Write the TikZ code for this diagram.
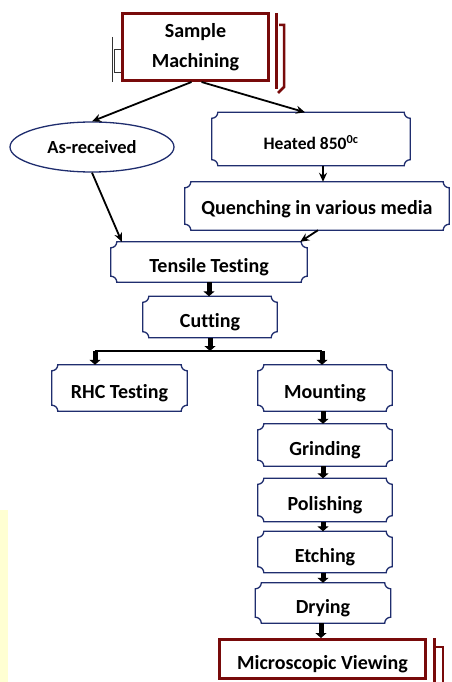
\documentclass[tikz,border=0pt]{standalone}
\usepackage{fontspec}
\setmainfont{Carlito}[Ligatures=NoCommon]
\usepackage{tikz}
\usetikzlibrary{arrows,arrows.meta,shapes,positioning,calc}
\definecolor{dfnavy}{RGB}{31,45,110}
\definecolor{dfred}{RGB}{120,10,10}
\definecolor{dfpale}{RGB}{255,255,210}
\tikzstyle{arrow} = [line width=1.8pt,-{Stealth[length=9pt,width=8pt]},color=black]
\tikzstyle{blockarrow} = [line width=5pt,-{Triangle[length=5pt,width=11pt]},color=black]
\tikzstyle{stepbox} = [rectangle, inner sep=0pt, text height=21pt, text depth=0pt, font=\bfseries\fontsize{20}{24}\selectfont]
\tikzstyle{redbox} = [rectangle, draw=dfred, line width=3pt, inner sep=0pt, font=\bfseries\fontsize{20}{24}\selectfont]
\tikzstyle{plaqueline} = [draw=dfnavy, line width=1.3pt]

\begin{document}
\begin{tikzpicture}[x=1pt,y=-1pt]
    \useasboundingbox (0,0) rectangle (451,682);
    \fill[dfpale] (0,510) rectangle (8,682);

    % Start and end boxes
    \node[redbox, minimum width=146pt, minimum height=67pt, align=center, font=\bfseries\fontsize{20}{30}\selectfont] (smp) at (195.5,47) {Sample\\Machining};
    \node[redbox, minimum width=206pt, minimum height=39pt, text height=21pt, text depth=0pt] (micro) at (322.5,659) {Microscopic Viewing};

    % Branches
    \node[ellipse, draw=dfnavy, line width=1.3pt, minimum width=164pt, minimum height=50pt, inner sep=0pt, font=\bfseries\fontsize{18.5}{22}\selectfont] (asr) at (92,147) {As-received};
    \node[stepbox, minimum width=198pt, minimum height=53pt, font=\bfseries\fontsize{17.5}{22}\selectfont] (heat) at (311,139) {Heated 850\textsuperscript{0c}};
    \node[stepbox, minimum width=264pt, minimum height=48pt, text height=17pt] (quench) at (317,206) {Quenching in various media};

    % Testing
    \node[stepbox, minimum width=196pt, minimum height=40pt] (tens) at (209,262) {Tensile Testing};
    \node[stepbox, minimum width=134pt, minimum height=41pt] (cut) at (210,317) {Cutting};
    \node[stepbox, minimum width=135pt, minimum height=46pt] (rhc) at (119.5,388) {RHC Testing};

    % Sample preparation
    \node[stepbox, minimum width=134pt, minimum height=46pt] (mount) at (325,388) {Mounting};
    \node[stepbox, minimum width=134pt, minimum height=42pt] (grind) at (325,445) {Grinding};
    \node[stepbox, minimum width=134pt, minimum height=43pt] (pol) at (325,500) {Polishing};
    \node[stepbox, minimum width=134pt, minimum height=41pt] (etch) at (325,552) {Etching};
    \node[stepbox, minimum width=135pt, minimum height=40pt] (dry) at (323,603) {Drying};

    % Plaque outlines
    \foreach \n in {heat,quench,tens,cut,rhc,mount,grind,pol,etch,dry}
        \draw[plaqueline] ($(\n.north west)+(6,0)$) -- ($(\n.north east)+(-6,0)$) arc[start angle=180, end angle=270, radius=6pt]
            -- ($(\n.south east)+(0,-6)$) arc[start angle=90, end angle=180, radius=6pt]
            -- ($(\n.south west)+(6,0)$) arc[start angle=0, end angle=90, radius=6pt]
            -- ($(\n.north west)+(0,6)$) arc[start angle=270, end angle=360, radius=6pt] -- cycle;

    % Decorations of the red boxes
    \draw[dfred, line width=3pt] ($(smp.north east)+(6,1)$) -- ($(smp.south east)+(6,7)$);
    \draw[dfred, line width=2.5pt] ($(smp.north east)+(9,13)$) -- ++(5,0) -- ++(0,62) -- ++(-6,6);
    \draw[black!80, line width=0.8pt] ($(smp.west)+(0,2)$) -- ++(-7,0) -- ++(0,23) -- ++(7,0);
    \draw[black!80, line width=0.8pt] ($(smp.west)+(-9,-10)$) -- ++(0,45);
    \draw[dfred, line width=3pt] ($(micro.north east)+(7,0)$) -- ($(micro.south east)+(7,3)$);
    \draw[dfred, line width=2.5pt] ($(micro.north east)+(7,9)$) -- ++(9,0) -- ++(0,36);

    % Thin arrows
    \draw[arrow] ([xshift=-4pt]smp.south) -- (asr.north);
    \draw[arrow] ([xshift=6pt]smp.south) -- ([xshift=-6pt]heat.north);
    \draw[arrow] ([xshift=12pt]heat.south) -- ([xshift=12pt]heat.south |- quench.north);
    \draw[arrow] ([xshift=1pt]quench.south) -- ([xshift=-7pt]tens.north east);
    \draw[arrow] (asr.south) -- ([xshift=11pt]tens.north west);

    % Block arrows
    \coordinate (split) at (208,351);
    \coordinate (splitL) at (95,351);
    \coordinate (splitR) at (322,351);
    \draw[blockarrow] (tens.south) -- (tens.south |- cut.north);
    \draw[blockarrow] (cut.south) -- (cut.south |- split);
    \draw[line width=1.5pt] (splitL) -- (splitR);
    \draw[blockarrow] (splitL) -- (splitL |- rhc.north);
    \draw[blockarrow] (splitR) -- (splitR |- mount.north);
    \foreach \a/\b in {mount/grind,grind/pol,pol/etch,etch/dry,dry/micro}
        \draw[blockarrow] ([xshift=-2pt]\a.south) -- ([xshift=-2pt]\a.south |- \b.north);
\end{tikzpicture}
\end{document}
